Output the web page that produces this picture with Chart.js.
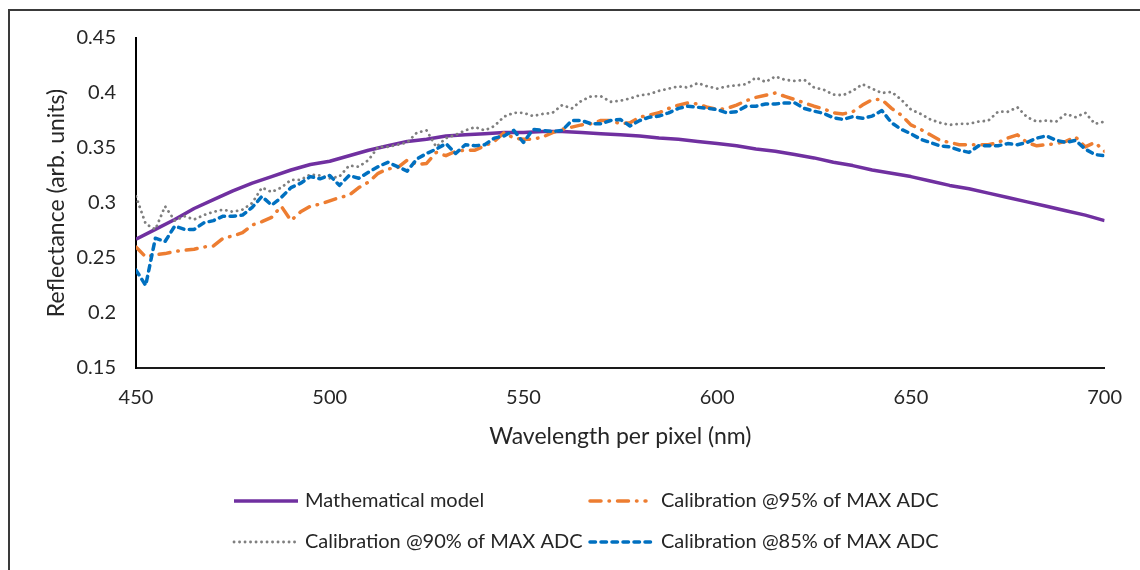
<!DOCTYPE html>
<html>
<head>
<meta charset="utf-8">
<script src="https://cdn.jsdelivr.net/npm/chart.js@4/dist/chart.umd.min.js"></script>
<style>
  body { margin: 0; background: #fff; }
  #wrap { position: relative; width: 1140px; height: 570px; overflow: hidden; }
  #frame { position: absolute; left: 8px; top: 9px; width: 1200px; height: 600px; border-left: 2px solid #3a3a3a; border-top: 2px solid #3a3a3a; }
  #chart { position: absolute; left: 0; top: 0; }
</style>
</head>
<body>
<div id="wrap">
  <div id="frame"></div>
  <canvas id="chart" width="1140" height="570"></canvas>
</div>
<script>
// wavelength grid of the measured curves (nm)
const wavelengths = [
  450, 452.5, 455, 457.5, 460, 462.5, 465, 467.5, 470, 472.5,
  475, 477.5, 480, 482.5, 485, 487.5, 490, 492.5, 495, 497.5,
  500, 502.5, 505, 507.5, 510, 512.5, 515, 517.5, 520, 522.5,
  525, 527.5, 530, 532.5, 535, 537.5, 540, 542.5, 545, 547.5,
  550, 552.5, 555, 557.5, 560, 562.5, 565, 567.5, 570, 572.5,
  575, 577.5, 580, 582.5, 585, 587.5, 590, 592.5, 595, 597.5,
  600, 602.5, 605, 607.5, 610, 612.5, 615, 617.5, 620, 622.5,
  625, 627.5, 630, 632.5, 635, 637.5, 640, 642.5, 645, 647.5,
  650, 652.5, 655, 657.5, 660, 662.5, 665, 667.5, 670, 672.5,
  675, 677.5, 680, 682.5, 685, 687.5, 690, 692.5, 695, 697.5,
  700
];

// wavelength grid of the model curve (nm)
const modelWavelengths = [
  450, 455, 460, 465, 470, 475, 480, 485, 490, 495,
  500, 505, 510, 515, 520, 525, 530, 535, 540, 545,
  550, 555, 560, 565, 570, 575, 580, 585, 590, 595,
  600, 605, 610, 615, 620, 625, 630, 635, 640, 645,
  650, 655, 660, 665, 670, 675, 680, 685, 690, 695,
  700
];

const modelValues = [
  0.267, 0.276, 0.285, 0.295, 0.303, 0.311, 0.318, 0.324, 0.330, 0.335,
  0.338, 0.343, 0.348, 0.352, 0.356, 0.358, 0.361, 0.362, 0.363, 0.364,
  0.364, 0.365, 0.365, 0.364, 0.363, 0.362, 0.361, 0.359, 0.358, 0.356,
  0.354, 0.352, 0.349, 0.347, 0.344, 0.341, 0.337, 0.334, 0.330, 0.327,
  0.324, 0.320, 0.316, 0.313, 0.309, 0.305, 0.301, 0.297, 0.293, 0.289,
  0.284
];

const cal95 = [
  0.260, 0.251, 0.253, 0.254, 0.256, 0.257, 0.258, 0.260, 0.261, 0.268,
  0.270, 0.273, 0.280, 0.283, 0.287, 0.297, 0.284, 0.292, 0.297, 0.299,
  0.302, 0.305, 0.307, 0.314, 0.319, 0.327, 0.331, 0.332, 0.339, 0.335,
  0.336, 0.346, 0.343, 0.347, 0.348, 0.348, 0.352, 0.356, 0.364, 0.359,
  0.358, 0.358, 0.360, 0.364, 0.367, 0.369, 0.371, 0.372, 0.375, 0.375,
  0.372, 0.373, 0.378, 0.380, 0.382, 0.386, 0.389, 0.391, 0.390, 0.387,
  0.385, 0.386, 0.389, 0.393, 0.396, 0.398, 0.400, 0.397, 0.394, 0.391,
  0.388, 0.3855, 0.382, 0.381, 0.383, 0.389, 0.394, 0.394, 0.386, 0.380,
  0.371, 0.367, 0.362, 0.357, 0.355, 0.353, 0.353, 0.353, 0.353, 0.355,
  0.359, 0.362, 0.355, 0.352, 0.353, 0.354, 0.356, 0.360, 0.351, 0.355,
  0.347
];

const cal90 = [
  0.306, 0.281, 0.276, 0.297, 0.284, 0.288, 0.285, 0.289, 0.292, 0.294,
  0.292, 0.294, 0.300, 0.314, 0.310, 0.314, 0.321, 0.321, 0.326, 0.325,
  0.3225, 0.324, 0.334, 0.333, 0.339, 0.351, 0.351, 0.353, 0.355, 0.364,
  0.366, 0.351, 0.359, 0.362, 0.366, 0.369, 0.366, 0.370, 0.3785, 0.382,
  0.382, 0.379, 0.381, 0.382, 0.389, 0.386, 0.393, 0.397, 0.397, 0.392,
  0.393, 0.395, 0.398, 0.399, 0.402, 0.404, 0.406, 0.405, 0.409, 0.406,
  0.404, 0.406, 0.407, 0.408, 0.414, 0.410, 0.415, 0.412, 0.411, 0.412,
  0.405, 0.403, 0.3985, 0.398, 0.402, 0.408, 0.404, 0.400, 0.401, 0.394,
  0.385, 0.381, 0.376, 0.373, 0.371, 0.372, 0.372, 0.374, 0.375, 0.383,
  0.383, 0.387, 0.378, 0.374, 0.375, 0.374, 0.381, 0.378, 0.382, 0.372,
  0.374
];

const cal85 = [
  0.239, 0.225, 0.268, 0.265, 0.279, 0.276, 0.276, 0.282, 0.284, 0.288,
  0.288, 0.289, 0.296, 0.306, 0.298, 0.305, 0.314, 0.318, 0.324, 0.322,
  0.325, 0.316, 0.325, 0.3225, 0.328, 0.333, 0.337, 0.333, 0.329, 0.340,
  0.345, 0.349, 0.354, 0.345, 0.353, 0.352, 0.353, 0.359, 0.361, 0.366,
  0.355, 0.367, 0.366, 0.365, 0.366, 0.375, 0.375, 0.372, 0.372, 0.375,
  0.376, 0.370, 0.375, 0.378, 0.379, 0.382, 0.386, 0.388, 0.387, 0.386,
  0.385, 0.382, 0.383, 0.388, 0.388, 0.390, 0.390, 0.391, 0.391, 0.386,
  0.3835, 0.3815, 0.3775, 0.376, 0.3785, 0.377, 0.379, 0.384, 0.373, 0.367,
  0.363, 0.358, 0.355, 0.352, 0.351, 0.348, 0.346, 0.352, 0.352, 0.352,
  0.354, 0.353, 0.355, 0.359, 0.361, 0.357, 0.355, 0.357, 0.349, 0.344,
  0.343
];

const seriesLabels = [
  'Mathematical model',
  'Calibration @95% of MAX ADC',
  'Calibration @90% of MAX ADC',
  'Calibration @85% of MAX ADC'
];

const toPoints = (xs, ys) => xs.map((x, i) => ({ x: x, y: ys[i] }));

const FONT = 'Lato, "Noto Sans", sans-serif';
const TEXT = '#262626';

// legend drawn at fixed spots, two columns like the original
const legendSpots = [
  { x0: 234, x1: 298, tx: 305, y: 501 },
  { x0: 590, x1: 646, tx: 661, y: 501 },
  { x0: 234, x1: 296, tx: 305, y: 542 },
  { x0: 590, x1: 652, tx: 661, y: 542 }
];

const gridLegend = {
  id: 'gridLegend',
  afterDraw(chart) {
    const ctx = chart.ctx;
    chart.data.datasets.forEach((ds, i) => {
      const s = legendSpots[i];
      ctx.save();
      ctx.strokeStyle = ds.borderColor;
      ctx.lineWidth = ds.borderWidth;
      ctx.lineCap = ds.borderCapStyle || 'butt';
      ctx.setLineDash(ds.borderDash || []);
      ctx.beginPath();
      ctx.moveTo(s.x0, s.y);
      ctx.lineTo(s.x1, s.y);
      ctx.stroke();
      ctx.setLineDash([]);
      ctx.fillStyle = TEXT;
      ctx.font = '20px ' + FONT;
      ctx.textBaseline = 'middle';
      ctx.textAlign = 'left';
      ctx.fillText(ds.label, s.tx, s.y);
      ctx.restore();
    });
  }
};

const ctx = document.getElementById('chart').getContext('2d');
new Chart(ctx, {
  type: 'line',
  data: {
    datasets: [
      {
        label: seriesLabels[0],
        data: toPoints(modelWavelengths, modelValues),
        borderColor: '#7030A0',
        borderWidth: 3.5,
        order: 3
      },
      {
        label: seriesLabels[1],
        data: toPoints(wavelengths, cal95),
        borderColor: '#ED7D31',
        borderWidth: 3.5,
        borderDash: [11, 8, 0.5, 8],
        borderCapStyle: 'round',
        order: 2
      },
      {
        label: seriesLabels[2],
        data: toPoints(wavelengths, cal90),
        borderColor: '#7F7F7F',
        borderWidth: 2.8,
        borderDash: [0.1, 5.4],
        borderCapStyle: 'round',
        order: 1
      },
      {
        label: seriesLabels[3],
        data: toPoints(wavelengths, cal85),
        borderColor: '#0070C0',
        borderWidth: 3.5,
        borderDash: [5.5, 5.5],
        borderCapStyle: 'round',
        order: 0
      }
    ]
  },
  options: {
    responsive: false,
    animation: false,
    elements: {
      point: { radius: 0 },
      line: { tension: 0, fill: false, borderJoinStyle: 'round' }
    },
    layout: {
      padding: { left: 43, right: 33, top: 38, bottom: 120 }
    },
    plugins: {
      legend: { display: false },
      tooltip: { enabled: false }
    },
    scales: {
      x: {
        type: 'linear',
        min: 450,
        max: 700,
        afterFit: (scale) => { scale.height = 82; },
        grid: { display: false, drawTicks: false },
        border: { display: true, color: '#1a1a1a', width: 2 },
        ticks: {
          stepSize: 50,
          padding: 18,
          color: TEXT,
          font: { family: FONT, size: 20 }
        },
        title: {
          display: true,
          text: 'Wavelength per pixel (nm)',
          color: TEXT,
          padding: { top: 0, bottom: 0 },
          font: { family: FONT, size: 23 }
        }
      },
      y: {
        min: 0.15,
        max: 0.45,
        afterFit: (scale) => { scale.width = 93; },
        grid: { display: false, drawTicks: false },
        border: { display: true, color: '#000', width: 2 },
        ticks: {
          stepSize: 0.05,
          padding: 20,
          color: TEXT,
          font: { family: FONT, size: 20 },
          callback: (value) => String(Number(value.toFixed(2)))
        },
        title: {
          display: true,
          text: 'Reflectance (arb. units)',
          color: TEXT,
          padding: { top: 0, bottom: 0 },
          font: { family: FONT, size: 23 }
        }
      }
    }
  },
  plugins: [gridLegend]
});
</script>
</body>
</html>
